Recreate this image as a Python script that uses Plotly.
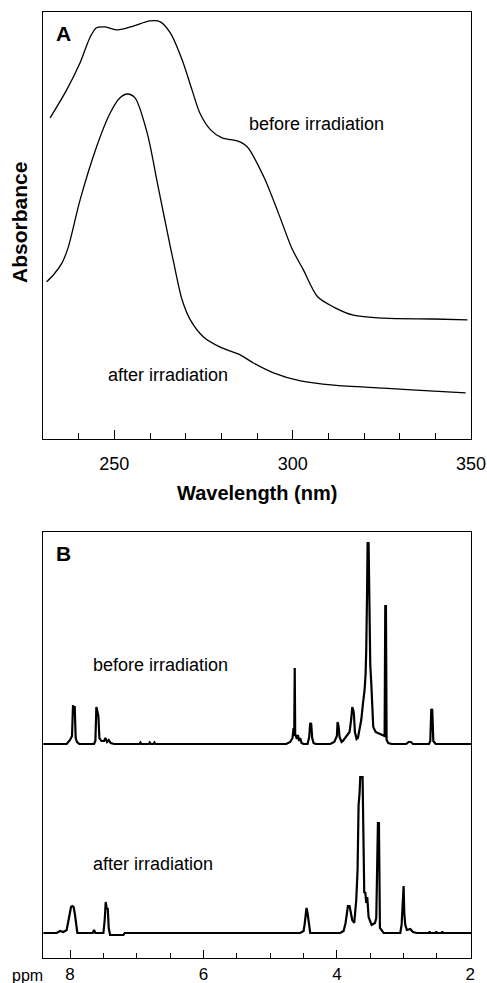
import plotly.graph_objects as go

# ---------------- Panel A: UV absorbance ----------------
UV_BEFORE_NM = [232, 236.6, 240.4, 243.2, 245, 247.4, 251, 255.3, 260, 262.9, 265.7, 269, 271.8,
                274, 277, 280.2, 284.5, 287.3, 291.9, 296, 299.8, 303, 307, 311.5, 317, 325.5, 339.6, 349]
UV_BEFORE_ABS = [0.752, 0.817, 0.881, 0.941, 0.963, 0.965, 0.958, 0.967, 0.979, 0.977, 0.951, 0.888, 0.817,
                 0.763, 0.724, 0.705, 0.698, 0.684, 0.614, 0.529, 0.446, 0.396, 0.333, 0.309, 0.290, 0.283, 0.281, 0.279]

UV_AFTER_NM = [231, 232.9, 235.3, 237, 240.4, 245, 248.8, 251.6, 253.6, 255.8, 259.2, 262.3, 265.7, 266.5,
               269, 271.3, 275, 279.7, 285.3, 289, 294.6, 302.2, 311.5, 325.5, 339.6, 348.5]
UV_AFTER_ABS = [0.368, 0.384, 0.412, 0.447, 0.560, 0.684, 0.763, 0.799, 0.808, 0.799, 0.717, 0.590, 0.450, 0.419,
                0.326, 0.279, 0.239, 0.215, 0.197, 0.178, 0.155, 0.136, 0.126, 0.119, 0.112, 0.108]

# ---------------- Panel B: 1H NMR ----------------
NMR_BEFORE_PPM = [8.40, 8.05, 8.00, 7.97, 7.955, 7.945, 7.93, 7.915, 7.895, 7.86,
                  7.64, 7.62, 7.605, 7.59, 7.575, 7.56, 7.53, 7.49, 7.47, 7.445, 7.42, 7.39, 7.34,
                  6.96, 6.945, 6.93, 6.82, 6.805, 6.79, 6.75, 6.735, 6.72,
                  4.76, 4.70, 4.665, 4.65, 4.64, 4.632, 4.625, 4.60, 4.585, 4.565, 4.55, 4.53, 4.50,
                  4.44, 4.415, 4.40, 4.385, 4.37, 4.35, 4.32,
                  4.10, 4.04, 4.00, 3.99, 3.975, 3.96, 3.93, 3.91, 3.84, 3.81, 3.785, 3.77, 3.755, 3.745,
                  3.73, 3.705, 3.685, 3.66, 3.635, 3.61, 3.585, 3.57, 3.56, 3.548, 3.54, 3.525, 3.515,
                  3.50, 3.485, 3.47, 3.455, 3.42, 3.35, 3.31, 3.285, 3.275, 3.265, 3.255, 3.23, 3.18,
                  2.96, 2.925, 2.89, 2.86, 2.62, 2.60, 2.585, 2.57, 2.555, 2.52, 1.99]
NMR_BEFORE_INT = [0, 0, 4, 8, 39, 30, 38, 6, 2, 0,
                  0, 3, 37, 30, 28, 6, 3, 3, 6, 2, 4, 1, 0,
                  0, 1.5, 0, 0, 1.5, 0, 0, 1.5, 0,
                  0, 2, 6, 16, 8, 76, 10, 5, 9, 3, 6, 1, 0,
                  0, 7, 21, 20, 6, 1, 0,
                  0, 2, 8, 22, 18, 7, 2, 3, 9, 12, 25, 37, 34, 30,
                  12, 5, 6, 14, 24, 40, 54, 70, 94, 150, 201, 201, 150,
                  80, 61, 35, 17, 12, 10, 9, 8, 138, 138, 4, 1, 0,
                  0, 2, 2, 0, 0, 3, 35, 34, 3, 0, 0]

NMR_AFTER_PPM = [8.40, 8.20, 8.15, 8.10, 8.05, 8.025, 8.005, 7.985, 7.965, 7.945, 7.925, 7.91, 7.89,
                 7.66, 7.64, 7.62, 7.50, 7.48, 7.465, 7.45, 7.435, 7.42, 7.40, 7.20, 7.18,
                 4.55, 4.50, 4.485, 4.47, 4.455, 4.44, 4.42, 4.40,
                 3.95, 3.90, 3.87, 3.85, 3.835, 3.81, 3.795, 3.77, 3.74, 3.71, 3.69, 3.675, 3.66,
                 3.65, 3.615, 3.60, 3.59, 3.575, 3.56, 3.545, 3.525, 3.48, 3.43, 3.41, 3.385, 3.37,
                 3.355, 3.30, 3.05, 3.03, 3.015, 3.0, 2.99, 2.975, 2.95, 2.90, 2.86, 2.80,
                 2.62, 2.61, 2.60, 2.52, 2.51, 2.50, 2.43, 2.42, 2.41, 1.99]
NMR_AFTER_INT = [0, 0, 2, 1, 3, 13, 22, 26, 27, 26, 18, 8, 0,
                 0, 3, 0, 0, 13, 31, 24, 25, 5, -2, -2, 0,
                 0, 2, 8, 20, 25, 20, 10, 0,
                 0, 2, 10, 20, 27, 27, 20, 13, 10, 33, 63, 128, 140,
                 156, 156, 60, 40, 41, 30, 36, 16, 8, 10, 15, 110, 110,
                 5, 0, 0, 8, 26, 47, 20, 8, 3, 4, 1, 0,
                 0, 1.5, 0, 0, 1.5, 0, 0, 1.5, 0, 0]

BEFORE_OFFSET = 214
AFTER_OFFSET = 25

FONT = "Liberation Sans, Arial, Helvetica, sans-serif"
W, H = 487, 983

fig = go.Figure()
fig.add_trace(go.Scatter(x=UV_BEFORE_NM, y=UV_BEFORE_ABS, mode="lines", xaxis="x", yaxis="y",
                         line=dict(color="black", width=1.3, shape="spline", smoothing=0.8)))
fig.add_trace(go.Scatter(x=UV_AFTER_NM, y=UV_AFTER_ABS, mode="lines", xaxis="x", yaxis="y",
                         line=dict(color="black", width=1.3, shape="spline", smoothing=0.8)))
fig.add_trace(go.Scatter(x=NMR_BEFORE_PPM, y=[v + BEFORE_OFFSET for v in NMR_BEFORE_INT], mode="lines",
                         xaxis="x2", yaxis="y2", line=dict(color="black", width=2.2)))
fig.add_trace(go.Scatter(x=NMR_AFTER_PPM, y=[v + AFTER_OFFSET for v in NMR_AFTER_INT], mode="lines",
                         xaxis="x2", yaxis="y2", line=dict(color="black", width=2.2)))

xdom = [43 / W, 471 / W]
frame = dict(showline=True, mirror=True, linecolor="black", linewidth=1.2, showgrid=False, zeroline=False,
             automargin=False)

fig.update_layout(
    width=W, height=H, autosize=False, margin=dict(l=0, r=0, t=0, b=0, pad=0),
    paper_bgcolor="white", plot_bgcolor="white", showlegend=False,
    font=dict(family=FONT, color="black"),
    xaxis=dict(domain=xdom, range=[230, 350], anchor="y", tick0=0, dtick=50, ticks="inside",
               ticklen=9, tickcolor="black", tickwidth=1.2, ticklabelstandoff=8,
               tickfont=dict(size=18, family=FONT, color="black"),
               minor=dict(dtick=10, tick0=0, ticks="inside", ticklen=6, tickcolor="black", tickwidth=1.2),
               **frame),
    yaxis=dict(domain=[1 - 439 / H, 1 - 12 / H], range=[0, 1], anchor="x", ticks="",
               showticklabels=False, **frame),
    xaxis2=dict(domain=xdom, range=[8.405, 1.99], anchor="y2", tick0=0, dtick=2, ticks="inside",
                ticklen=8, tickcolor="black", tickwidth=1.2, ticklabelstandoff=0,
                tickfont=dict(size=17, family=FONT, color="black"),
                minor=dict(dtick=0.5, tick0=0, ticks="inside", ticklen=5, tickcolor="black", tickwidth=1.2),
                **frame),
    yaxis2=dict(domain=[1 - 958 / H, 1 - 532 / H], range=[0, 426], anchor="x2", ticks="",
                showticklabels=False, **frame),
)


def label(text, x, y, size, xref="paper", yref="paper", angle=0):
    return dict(text=text, x=x, y=y, xref=xref, yref=yref, xanchor="center", yanchor="middle",
                textangle=angle, showarrow=False, font=dict(size=size, family=FONT, color="black"))


ann = [
    label("<b>Wavelength (nm)</b>", 257 / W, 1 - 493 / H, 20),
    label("<b>Absorbance</b>", 20 / W, 1 - 223 / H, 21, angle=-90),
    label("<b>A</b>", 63 / W, 1 - 34 / H, 21),
    label("<b>B</b>", 63 / W, 1 - 553 / H, 21),
    label("ppm", 27 / W, 1 - 975 / H, 16),
    label("before irradiation", 306.7, 0.738, 18, "x", "y"),
    label("after irradiation", 265.1, 0.150, 18, "x", "y"),
    label("before irradiation", 6.64, 293, 18, "x2", "y2"),
    label("after irradiation", 6.76, 94, 18, "x2", "y2"),
]
fig.update_layout(annotations=ann)

fig.write_html(
    "out.html",
    config={"displayModeBar": False},
    post_script="document.body.style.margin='0';document.body.style.padding='0';",
)
